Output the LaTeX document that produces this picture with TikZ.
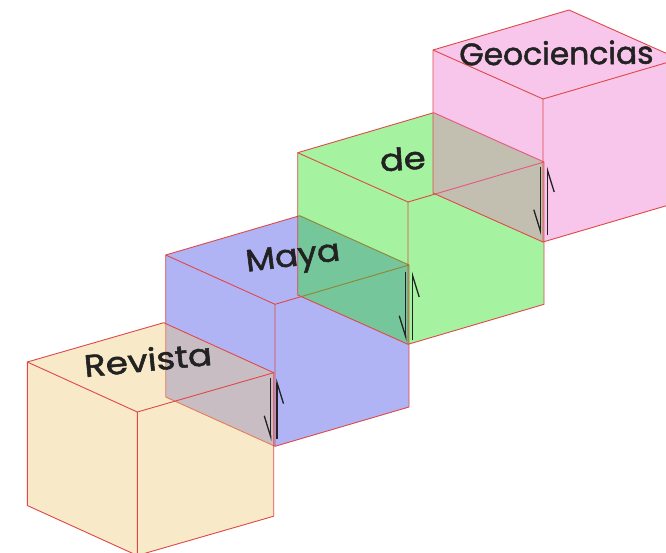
\documentclass[tikz,border=0pt]{standalone}
\usepackage{fontspec}
\setmainfont{Poppins}
\newfontfamily\handfont{Poppins}[FakeBold=1.6]
\usetikzlibrary{arrows.meta,calc}
\definecolor{edge}{HTML}{E04848}
\definecolor{tanF}{RGB}{238,203,120}
\definecolor{blueF}{RGB}{58,68,230}
\definecolor{greenF}{RGB}{30,225,18}
\definecolor{pinkF}{RGB}{238,113,203}
\definecolor{ink}{HTML}{222222}
\tikzset{
  cubeedge/.style={draw=edge, line width=0.9pt, line join=round},
  cubetext/.style={text=ink, font=\handfont\fontsize{31}{33}\selectfont, inner sep=0pt, anchor=base, transform shape},
  harp/.style={draw=ink, line width=1.3pt, -{Straight Barb[harpoon,swap,length=21pt,width=13pt]}},
}
\newcommand\drawcube[6]{%
  \coordinate (#1-p) at #2;
  \coordinate (#1-f) at #3;
  \coordinate (#1-r) at #4;
  \coordinate (#1-b) at ($(#1-p)+(#1-r)-(#1-f)$);
  \coordinate (#1-pd) at ($(#1-p)+(0,#5)$);
  \coordinate (#1-fd) at ($(#1-f)+(0,#5)$);
  \coordinate (#1-rd) at ($(#1-r)+(0,#5)$);
  \fill[#6, fill opacity=0.4] (#1-p) -- (#1-b) -- (#1-r) -- (#1-rd) -- (#1-fd) -- (#1-pd) -- cycle;
  \draw[cubeedge] (#1-p) -- (#1-b) -- (#1-r) -- (#1-rd) -- (#1-fd) -- (#1-pd) -- cycle;
  \draw[cubeedge] (#1-p) -- (#1-f) -- (#1-r) (#1-f) -- (#1-fd);
}
\begin{document}
\begin{tikzpicture}[x=1pt,y=-1pt]
\useasboundingbox (0,0) rectangle (666,552);
\clip (0,0) rectangle (666,552);
\fill[white] (0,0) rectangle (666,552);
\drawcube{blue}{(165.7,255)}{(275,304.3)}{(409,265)}{142}{blueF}
\drawcube{tan}{(27.3,362)}{(137.3,412)}{(273.7,372.7)}{143.5}{tanF}
\drawcube{green}{(297.7,152.7)}{(408,202)}{(544,162)}{142.3}{greenF}
\drawcube{pink}{(433,50)}{(543,99)}{(679,59)}{143}{pinkF}
% harpoon pairs
\coordinate (h1a) at (270.7,378.3); \coordinate (h1b) at (270.7,441);
\coordinate (h1c) at (277,439);     \coordinate (h1d) at (277,378.3);
\coordinate (h2a) at (405.7,271.7); \coordinate (h2b) at (405.7,341);
\coordinate (h2c) at (412.7,340);   \coordinate (h2d) at (412.7,271.7);
\coordinate (h3a) at (540.3,166.7); \coordinate (h3b) at (540.3,235);
\coordinate (h3c) at (547.7,235);   \coordinate (h3d) at (547.7,166.7);
\draw[harp] (h1a) -- (h1b);
\draw[harp] (h1c) -- (h1d);
\draw[harp] (h2a) -- (h2b);
\draw[harp] (h2c) -- (h2d);
\draw[harp] (h3a) -- (h3b);
\draw[harp] (h3c) -- (h3d);
% texts
\node[cubetext, rotate=5.5, xscale=1.15] (t1) at (149,371) {Revista};
\node[cubetext, rotate=7, xscale=1.1] (t2) at (294,266) {Maya};
\node[cubetext, rotate=4, xscale=1.14] (t3) at (403.5,170) {de};
\node[cubetext, rotate=0.5, xscale=1.01] (t4) at (556.5,64.5) {Geociencias};
\end{tikzpicture}
\end{document}
